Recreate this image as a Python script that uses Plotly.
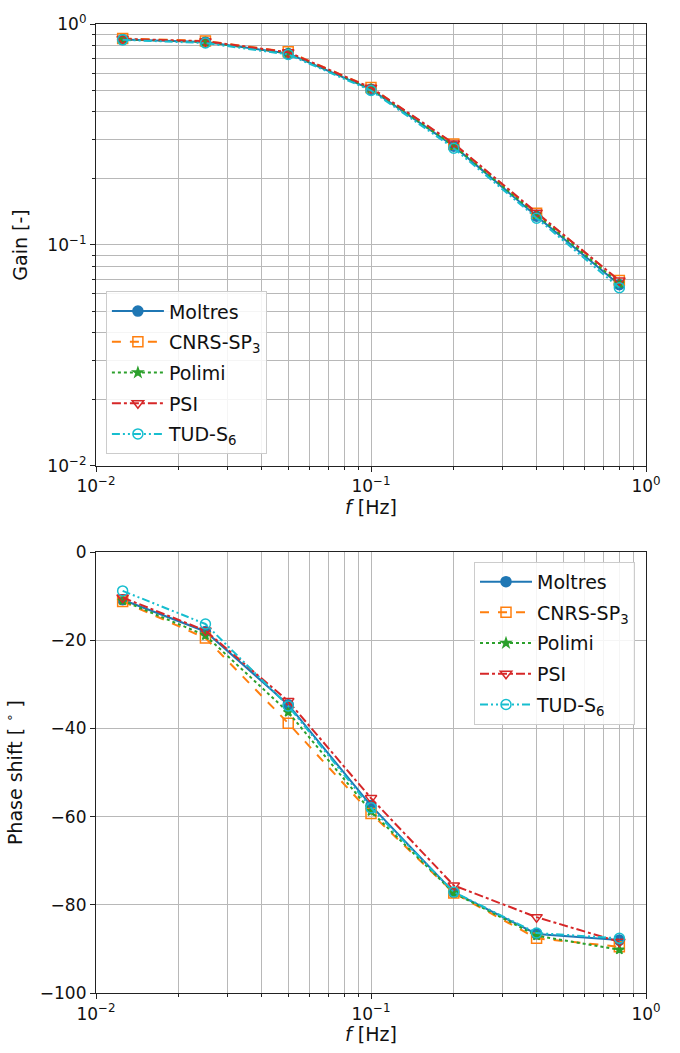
import plotly.graph_objects as go

# Excitation frequencies [Hz]
freq = [0.0125, 0.025, 0.05, 0.1, 0.2, 0.4, 0.8]

codes = ["Moltres", "CNRS-SP<sub>3</sub>", "Polimi", "PSI", "TUD-S<sub>6</sub>"]

# Gain [-]
gain_moltres = [0.850, 0.828, 0.735, 0.506, 0.280, 0.135, 0.066]
gain_cnrs = [0.860, 0.838, 0.748, 0.516, 0.286, 0.139, 0.069]
gain_polimi = [0.852, 0.830, 0.740, 0.510, 0.281, 0.137, 0.067]
gain_psi = [0.856, 0.836, 0.745, 0.515, 0.288, 0.140, 0.069]
gain_tud = [0.848, 0.820, 0.728, 0.500, 0.274, 0.132, 0.064]

# Phase shift [deg]
phase_moltres = [-10.8, -18.0, -34.6, -57.5, -77.2, -86.6, -88.0]
phase_cnrs = [-11.2, -19.5, -38.8, -59.3, -77.3, -87.6, -89.5]
phase_polimi = [-11.0, -18.9, -36.3, -58.8, -77.3, -87.0, -90.2]
phase_psi = [-10.3, -17.8, -33.8, -55.8, -75.6, -82.8, -88.4]
phase_tud = [-8.8, -16.3, -34.9, -58.0, -77.1, -86.4, -87.6]

x_ticks = [0.01, 0.1, 1.0]
x_tick_text = ["10<sup>\u22122</sup>", "10<sup>\u22121</sup>", "10<sup>0</sup>"]
gain_ticks = [0.01, 0.1, 1.0]
gain_tick_text = ["10<sup>\u22122</sup>", "10<sup>\u22121</sup>", "10<sup>0</sup>"]
phase_ticks = [-100, -80, -60, -40, -20, 0]
phase_tick_text = ["\u2212100", "\u221280", "\u221260", "\u221240", "\u221220", "0"]

gains = [gain_moltres, gain_cnrs, gain_polimi, gain_psi, gain_tud]
phases = [phase_moltres, phase_cnrs, phase_polimi, phase_psi, phase_tud]

styles = [
    dict(color="#1f77b4", dash="solid", symbol="circle", size=10),
    dict(color="#ff7f0e", dash="dash", symbol="square-open", size=10),
    dict(color="#2ca02c", dash="dot", symbol="star", size=7),
    dict(color="#d62728", dash="dashdot", symbol="triangle-down-open", size=10),
    dict(color="#17becf", dash="8px,3px,2px,3px,2px,3px", symbol="circle-open", size=10),
]

FONT = "DejaVu Sans, Liberation Sans, sans-serif"
GRID = "#b8b8b8"
TICK_SIZE = 17
TITLE_SIZE = 19
LEGEND_SIZE = 19

fig = go.Figure()

for i, (name, g, st) in enumerate(zip(codes, gains, styles)):
    fig.add_trace(go.Scatter(
        x=freq, y=g, name=name, mode="lines+markers",
        line=dict(color=st["color"], dash=st["dash"], width=2),
        marker=dict(symbol=st["symbol"], size=st["size"], color=st["color"],
                    line=dict(color=st["color"], width=1.5)),
        xaxis="x", yaxis="y", legend="legend", legendgroup=f"gain{i}",
    ))

for i, (name, p, st) in enumerate(zip(codes, phases, styles)):
    fig.add_trace(go.Scatter(
        x=freq, y=p, name=name, mode="lines+markers",
        line=dict(color=st["color"], dash=st["dash"], width=2),
        marker=dict(symbol=st["symbol"], size=st["size"], color=st["color"],
                    line=dict(color=st["color"], width=1.5)),
        xaxis="x2", yaxis="y2", legend="legend2", legendgroup=f"phase{i}",
    ))


def log_x(anchor):
    return dict(
        type="log", range=[-2, 0], anchor=anchor, domain=[0, 1],
        tickvals=x_ticks, ticktext=x_tick_text,
        ticks="outside", ticklen=5, tickwidth=1, tickcolor="#222",
        showline=True, linecolor="#222", linewidth=1.2, mirror=True,
        showgrid=True, gridcolor=GRID, gridwidth=1,
        minor=dict(showgrid=True, gridcolor=GRID, gridwidth=1,
                   ticks="outside", ticklen=3, tickcolor="#222", dtick="D1"),
        zeroline=False,
        tickfont=dict(size=TICK_SIZE, color="#111", family=FONT),
        title=dict(text="<i>f</i> [Hz]",
                   font=dict(size=TITLE_SIZE, color="#111", family=FONT),
                   standoff=4),
    )


legend_style = dict(
    xref="paper", yref="paper",
    bgcolor="rgba(255,255,255,0.85)", bordercolor="#cccccc", borderwidth=1,
    font=dict(size=LEGEND_SIZE, family=FONT, color="#111"),
    itemwidth=52, tracegroupgap=3,
)

fig.update_layout(
    width=680, height=1053,
    margin=dict(l=96, r=34, t=17, b=58),
    paper_bgcolor="white", plot_bgcolor="white",
    font=dict(family=FONT, size=TICK_SIZE, color="#111"),
    xaxis=log_x("y"),
    xaxis2=log_x("y2"),
    yaxis=dict(
        type="log", range=[-2, 0], domain=[0.544, 1.0], anchor="x",
        tickvals=gain_ticks, ticktext=gain_tick_text,
        ticks="outside", ticklen=5, tickwidth=1, tickcolor="#222",
        showline=True, linecolor="#222", linewidth=1.2, mirror=True,
        showgrid=True, gridcolor=GRID, gridwidth=1,
        minor=dict(showgrid=True, gridcolor=GRID, gridwidth=1,
                   ticks="outside", ticklen=3, tickcolor="#222", dtick="D1"),
        zeroline=False,
        tickfont=dict(size=TICK_SIZE, color="#111", family=FONT),
        title=dict(text="Gain [-]",
                   font=dict(size=TITLE_SIZE, color="#111", family=FONT),
                   standoff=14),
    ),
    yaxis2=dict(
        range=[-100, 0], domain=[0, 0.455], anchor="x2",
        tickvals=phase_ticks, ticktext=phase_tick_text,
        ticks="outside", ticklen=5, tickwidth=1, tickcolor="#222",
        showline=True, linecolor="#222", linewidth=1.2, mirror=True,
        showgrid=True, gridcolor=GRID, gridwidth=1,
        zeroline=False,
        tickfont=dict(size=TICK_SIZE, color="#111", family=FONT),
        title=dict(text="Phase shift [ <sup>\u2218</sup> ]",
                   font=dict(size=TITLE_SIZE, color="#111", family=FONT),
                   standoff=12),
    ),
    legend=dict(x=0.018, y=0.556, xanchor="left", yanchor="bottom", **legend_style),
    legend2=dict(x=0.98, y=0.445, xanchor="right", yanchor="top", **legend_style),
)

fig.write_html("out.html")
